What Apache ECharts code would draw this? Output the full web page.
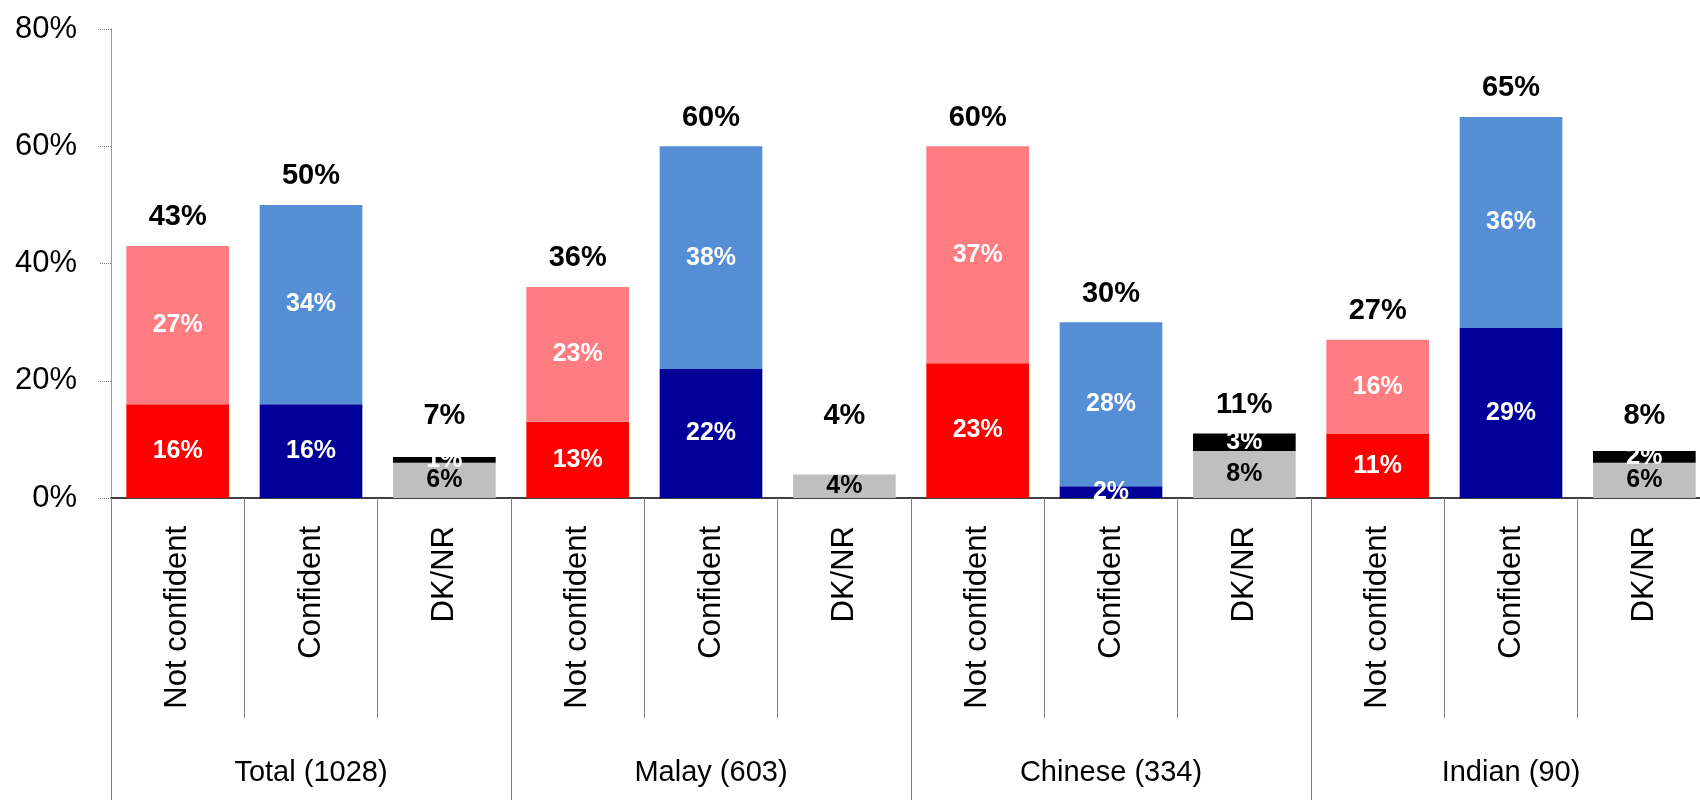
<!DOCTYPE html>
<html>
<head>
<meta charset="utf-8">
<script src="https://cdn.jsdelivr.net/npm/echarts@6/dist/echarts.min.js"></script>
<style>
  html, body { margin: 0; padding: 0; background: #fff; }
  #chart { width: 1700px; height: 800px; }
</style>
</head>
<body>
<div id="chart"></div>
<script>
// ---- data ----
const categories = [
  'Not confident', 'Confident', 'DK/NR',
  'Not confident', 'Confident', 'DK/NR',
  'Not confident', 'Confident', 'DK/NR',
  'Not confident', 'Confident', 'DK/NR'
];
const groups = ['Total (1028)', 'Malay (603)', 'Chinese (334)', 'Indian (90)'];
const strongValues   = [16, 16, 6, 13, 22, 4, 23, 2, 8, 11, 29, 6];
const somewhatValues = [27, 34, 1, 23, 38, 0, 37, 28, 3, 16, 36, 2];
const totalValues    = [43, 50, 7, 36, 60, 4, 60, 30, 11, 27, 65, 8];
const yMin = 0, yMax = 80, yStep = 20;

// ---- styles ----
const strongColor   = { 'Not confident': '#FF0000', 'Confident': '#000099', 'DK/NR': '#BFBFBF' };
const somewhatColor = { 'Not confident': '#FF7C80', 'Confident': '#558ED5', 'DK/NR': '#000000' };
const strongLabelColor = { 'Not confident': '#FFFFFF', 'Confident': '#FFFFFF', 'DK/NR': '#000000' };
const NARROW = "'Liberation Sans Narrow', 'Arial Narrow', 'Liberation Sans', Arial, sans-serif";
const REGULAR = "'Liberation Sans', Arial, sans-serif";
const LABEL_FLOOR_VALUE = 14.0; // total labels are never drawn lower than this level

const chart = echarts.init(document.getElementById('chart'));

const pctFmt = p => (p.value ? p.value + '%' : '');

const option = {
  animation: false,
  grid: { left: 111, top: 29, width: 1600, height: 469, containLabel: false, outerBoundsMode: 'none' },
  xAxis: [
    {
      type: 'category',
      data: categories,
      position: 'bottom',
      axisLine: { show: true, lineStyle: { color: '#000', width: 1.5 } },
      axisTick: { show: true, length: 220, lineStyle: { color: '#808080', width: 1 } },
      axisLabel: {
        rotate: 90, margin: 28, interval: 0,
        fontFamily: REGULAR, fontSize: 31, color: '#000'
      },
      splitLine: { show: false }
    },
    {
      type: 'category',
      data: groups,
      position: 'bottom',
      axisLine: { show: false },
      axisTick: { show: true, length: 302, lineStyle: { color: '#808080', width: 1 } },
      axisLabel: {
        margin: 260, interval: 0,
        fontFamily: NARROW, fontSize: 29, color: '#000'
      },
      splitLine: { show: false }
    }
  ],
  yAxis: {
    type: 'value',
    min: yMin, max: yMax, interval: yStep,
    axisLine: { show: true, lineStyle: { color: '#808080', type: 'dotted', width: 1 } },
    axisTick: { show: true, length: 11, lineStyle: { color: '#808080', type: 'dotted', width: 1 } },
    axisLabel: {
      margin: 34, formatter: '{value}%',
      fontFamily: NARROW, fontSize: 31, color: '#000'
    },
    splitLine: { show: false }
  },
  series: [
    {
      name: 'Strong',
      type: 'bar',
      stack: 'resp',
      barWidth: '77%',
      xAxisIndex: 0,
      data: strongValues.map((v, i) => ({
        value: v,
        itemStyle: { color: strongColor[categories[i]] },
        label: { color: strongLabelColor[categories[i]] }
      })),
      label: {
        show: true, position: 'inside', formatter: pctFmt,
        fontFamily: NARROW, fontWeight: 'bold', fontSize: 25
      }
    },
    {
      name: 'Somewhat',
      type: 'bar',
      stack: 'resp',
      barWidth: '77%',
      xAxisIndex: 0,
      data: somewhatValues.map((v, i) => ({
        value: v,
        itemStyle: { color: somewhatColor[categories[i]] }
      })),
      label: {
        show: true, position: 'inside', formatter: pctFmt,
        fontFamily: NARROW, fontWeight: 'bold', fontSize: 25, color: '#FFFFFF'
      }
    },
    {
      name: 'Total',
      type: 'bar',
      barWidth: '77%',
      barGap: '-100%',
      xAxisIndex: 0,
      z: 1,
      data: totalValues,
      itemStyle: { color: 'rgba(0,0,0,0)' },
      label: {
        show: true, position: 'top', distance: 14, formatter: pctFmt,
        fontFamily: NARROW, fontWeight: 'bold', fontSize: 29, color: '#000'
      },
      labelLayout: function (params) {
        const floorY = chart.convertToPixel({ yAxisIndex: 0 }, LABEL_FLOOR_VALUE);
        const r = params.labelRect;
        const center = r.y + r.height / 2;
        return { dy: Math.min(0, floorY - center) };
      }
    }
  ]
};

chart.setOption(option);
</script>
</body>
</html>
